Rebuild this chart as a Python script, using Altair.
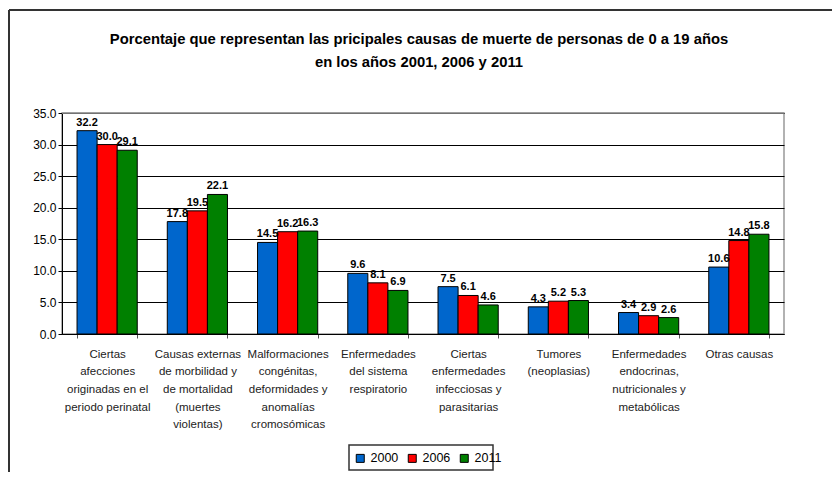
import altair as alt
import pandas as pd

categories = [
    "Ciertas|afecciones|originadas en el|periodo perinatal",
    "Causas externas|de morbilidad y|de mortalidad|(muertes|violentas)",
    "Malformaciones|congénitas,|deformidades y|anomalías|cromosómicas",
    "Enfermedades|del sistema|respiratorio",
    "Ciertas|enfermedades|infecciosas y|parasitarias",
    "Tumores|(neoplasias)",
    "Enfermedades|endocrinas,|nutricionales y|metabólicas",
    "Otras causas",
]
years = ["2000", "2006", "2011"]
v2000 = [32.2, 17.8, 14.5, 9.6, 7.5, 4.3, 3.4, 10.6]
v2006 = [30.0, 19.5, 16.2, 8.1, 6.1, 5.2, 2.9, 14.8]
v2011 = [29.1, 22.1, 16.3, 6.9, 4.6, 5.3, 2.6, 15.8]
colors = ["#0066cc", "#ff0000", "#008000"]
y_ticks = [0, 5, 10, 15, 20, 25, 30, 35]
title_lines = [
    "Porcentaje que representan las pricipales causas de muerte de personas de 0 a 19 años",
    "en los años 2001, 2006 y 2011",
]

rows = []
for yr, vals in zip(years, [v2000, v2006, v2011]):
    for c, v in zip(categories, vals):
        rows.append({"cat": c, "year": yr, "value": v})
df = pd.DataFrame(rows)

FONT = "Liberation Sans"

x_scale = alt.Scale(paddingInner=0.333, paddingOuter=0.1667)
x_axis = alt.Axis(
    title=None,
    labelAngle=0,
    labelExpr="split(datum.label, '|')",
    tickBand="extent",
    tickSize=4,
    tickColor="#555",
    domainColor="#000",
    labelFont=FONT,
    labelFontSize=11.5,
    labelColor="#222",
    labelLineHeight=17.7,
    labelPadding=10,
    labelBaseline="top",
    grid=False,
)
y_scale = alt.Scale(domain=[0, 35], nice=False, zero=True)
y_axis = alt.Axis(
    title=None,
    values=y_ticks,
    format=".1f",
    labelOverlap=False,
    tickSize=4,
    tickColor="#000",
    domainColor="#000",
    labelFont=FONT,
    labelFontSize=12,
    labelFontWeight="normal",
    labelColor="#000",
    labelPadding=2,
    grid=True,
    gridColor="#000000",
    gridWidth=1,
)

x = alt.X("cat:N", sort=categories, scale=x_scale, axis=x_axis)
y = alt.Y("value:Q", scale=y_scale, axis=y_axis)
xo = alt.XOffset("year:N", sort=years, scale=alt.Scale(paddingInner=0, paddingOuter=0))

bars = alt.Chart(df).mark_bar(stroke="#000", strokeWidth=1).encode(
    x=x,
    y=y,
    xOffset=xo,
    color=alt.Color(
        "year:N",
        sort=years,
        scale=alt.Scale(domain=years, range=colors),
        legend=alt.Legend(
            title=None,
            orient="none",
            legendX=292,
            legendY=339,
            direction="horizontal",
            padding=0,
            symbolType="square",
            symbolSize=64,
            symbolStrokeColor="#000",
            symbolStrokeWidth=1,
            labelFont=FONT,
            labelFontSize=12.5,
            labelColor="#000",
            labelOffset=4,
            columnPadding=7,
        ),
    ),
)

labels = alt.Chart(df).mark_text(
    dy=-8, fontWeight="bold", fontSize=11, font=FONT, color="#000"
).encode(
    x=x,
    y=y,
    xOffset=xo,
    text=alt.Text("value:Q", format=".1f"),
)

top_line = alt.Chart(pd.DataFrame({"value": [35]})).mark_rule(color="#999999", strokeWidth=1.5).encode(
    y=y
)

frame_top = alt.Chart(pd.DataFrame({"a": [0]})).mark_rule(color="#333", strokeWidth=2).encode(
    x=alt.value(-53), x2=alt.value(780), y=alt.value(-103)
)
frame_left = alt.Chart(pd.DataFrame({"a": [0]})).mark_rule(color="#333", strokeWidth=2).encode(
    x=alt.value(-53), y=alt.value(-103), y2=alt.value(370)
)
legend_box = alt.Chart(pd.DataFrame({"a": [0]})).mark_rect(
    fill="transparent", stroke="#333", strokeWidth=1.5
).encode(x=alt.value(287), x2=alt.value(431), y=alt.value(332), y2=alt.value(357))

title1 = alt.Chart(pd.DataFrame({"t": [title_lines[0]]})).mark_text(
    font=FONT, fontSize=14.8, fontWeight="bold", color="#000", align="center", baseline="middle"
).encode(x=alt.value(357), y=alt.value(-73), text="t:N")
title2 = alt.Chart(pd.DataFrame({"t": [title_lines[1]]})).mark_text(
    font=FONT, fontSize=14.8, fontWeight="bold", color="#000", align="center", baseline="middle"
).encode(x=alt.value(357), y=alt.value(-50), text="t:N")

chart = alt.layer(bars, top_line, labels, frame_top, frame_left, legend_box, title1, title2).properties(
    width=722,
    height=221,
    padding={"left": 54, "top": 105, "right": 48, "bottom": 138},
    autosize=alt.AutoSizeParams(type="none"),
    background="#ffffff",
).configure_view(stroke="#999999", strokeWidth=1.5)

chart.save("out.html", embed_options={"renderer": "svg", "actions": False})
